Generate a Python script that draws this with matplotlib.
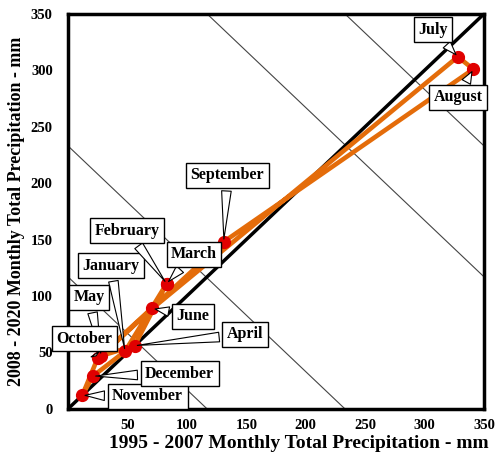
import numpy as np
import matplotlib.pyplot as plt

# monthly totals (mm): x = 1995-2007, y = 2008-2020
months = ['January', 'February', 'March', 'April', 'May', 'June', 'July',
          'August', 'September', 'October', 'November', 'December']
p_old = [48, 83, 83, 56, 28, 71, 328, 341, 131, 25, 12, 21]
p_new = [51, 111, 111, 56, 47, 89, 312, 301, 148, 45, 12, 29]

# where the callout boxes sit (data coords)
label_x = [36, 50, 106, 149, 18, 105, 307, 328, 134, 14, 67, 94]
label_y = [127, 158, 137, 66, 99, 82, 336, 276, 207, 62, 11, 31]

# guide lines x + y = c
guide_c = [117, 233, 467, 583]

plt.rcParams['font.family'] = ['Liberation Serif', 'DejaVu Serif']

fig = plt.figure(figsize=(5, 4.62), dpi=100)
ax = fig.add_axes([0.136, 0.115, 0.832, 0.855])

xx = np.array([0, 350])
for c in guide_c:
    ax.plot(xx, c - xx, color='#444444', lw=0.8, zorder=1)

ax.plot([0, 350], [0, 350], color='black', lw=2.5, zorder=2)

# close the loop Dec -> Jan
ax.plot(p_old + [p_old[0]], p_new + [p_new[0]], color='#E46C0A', lw=3.3, zorder=3)
ax.plot(p_old, p_new, 'o', color='#E00000', ms=8.5, zorder=4)

for i, m in enumerate(months):
    ax.annotate(m, xy=(p_old[i], p_new[i]), xytext=(label_x[i], label_y[i]),
                ha='center', va='center', fontsize=11.5, fontweight='bold',
                bbox=dict(boxstyle='square,pad=0.28', fc='white', ec='black', lw=1),
                arrowprops=dict(arrowstyle='wedge,tail_width=0.6', fc='white',
                                ec='black', lw=0.8, shrinkB=2),
                zorder=5)

ax.set_xlim(0, 350)
ax.set_ylim(0, 350)
ax.set_xticks([50, 100, 150, 200, 250, 300, 350])
ax.set_yticks([0, 50, 100, 150, 200, 250, 300, 350])
ax.tick_params(length=0, labelsize=10.5)
ax.tick_params(axis='x', pad=7)
ax.tick_params(axis='y', pad=11)
for lab in ax.get_xticklabels() + ax.get_yticklabels():
    lab.set_fontweight('bold')
for s in ax.spines.values():
    s.set_linewidth(2.5)

ax.set_xlabel('1995 - 2007 Monthly Total Precipitation - mm', fontsize=14,
              fontweight='bold')
ax.xaxis.set_label_coords(0.555, -0.066)
ax.set_ylabel('2008 - 2020 Monthly Total Precipitation - mm', fontsize=13,
              fontweight='bold', labelpad=4)

fig.savefig('out.png', dpi=100)
